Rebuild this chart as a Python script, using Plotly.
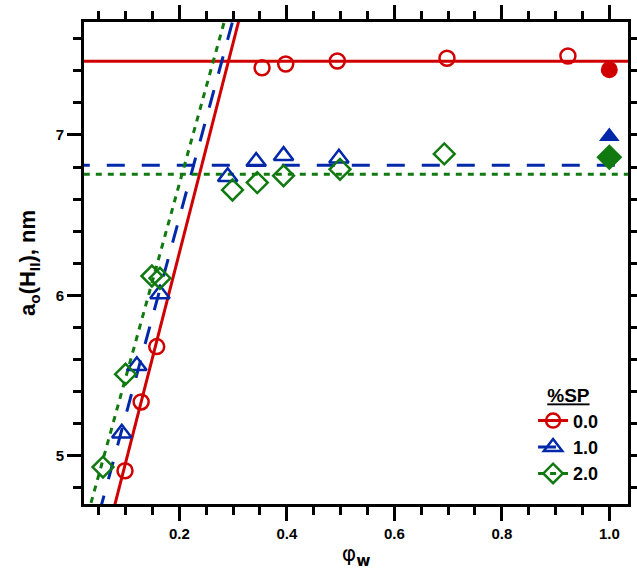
import plotly.graph_objects as go

# phi_w vs lattice parameter for three %SP levels
sp_labels = ["0.0", "1.0", "2.0"]

phi_sp0 = [0.099, 0.129, 0.158, 0.354, 0.398, 0.494, 0.698, 0.923]
a0_sp0 = [4.907, 5.336, 5.681, 7.419, 7.442, 7.461, 7.478, 7.492]

phi_sp1 = [0.093, 0.121, 0.164, 0.290, 0.343, 0.394, 0.497]
a0_sp1 = [5.141, 5.561, 6.009, 6.740, 6.834, 6.871, 6.855]

phi_sp2 = [0.058, 0.100, 0.149, 0.164, 0.299, 0.345, 0.394, 0.499, 0.693]
a0_sp2 = [4.930, 5.509, 6.121, 6.107, 6.657, 6.703, 6.746, 6.786, 6.882]

# pure-water-limit values (filled symbols)
phi_full = [1.0, 1.0, 1.0]
a0_full = [7.407, 6.990, 6.861]

# linear fits of the swelling branch: a0 = intercept + slope * phi
fit_slope = [13.08, 12.35, 12.10]
fit_intercept = [3.648, 4.013, 4.274]
# plateau levels
plateau = [7.459, 6.811, 6.755]

colors = ["#d00000", "#0028a8", "#107a10"]
symbols = ["circle", "triangle-up", "diamond"]
dashes = ["solid", "18px,17px", "6px,6px"]
msizes = [15, 17, 16]
fill_sizes = [17, 18, 20]

X_RANGE = [0.0227, 1.0348]
Y_RANGE = [4.70, 7.704]

fig = go.Figure()

series = [(phi_sp0, a0_sp0), (phi_sp1, a0_sp1), (phi_sp2, a0_sp2)]
for i, (xs, ys) in enumerate(series):
    c = colors[i]
    # swelling fit line
    xf = [0.0, 0.4]
    yf = [fit_intercept[i] + fit_slope[i] * v for v in xf]
    fig.add_trace(go.Scatter(x=xf, y=yf, mode="lines", showlegend=False,
                             line=dict(color=c, width=3, dash=dashes[i]),
                             hoverinfo="skip"))
    # plateau line
    fig.add_trace(go.Scatter(x=[0.0, 1.1], y=[plateau[i]] * 2, mode="lines",
                             showlegend=False,
                             line=dict(color=c, width=3, dash=dashes[i]),
                             hoverinfo="skip"))

for i, (xs, ys) in enumerate(series):
    c = colors[i]
    fig.add_trace(go.Scatter(x=xs, y=ys, mode="markers", showlegend=False,
                             marker=dict(symbol=symbols[i] + "-open", size=msizes[i],
                                         color=c, line=dict(color=c, width=2.5)),
                             cliponaxis=False))
    fig.add_trace(go.Scatter(x=[phi_full[i]], y=[a0_full[i]], mode="markers",
                             showlegend=False,
                             marker=dict(symbol=symbols[i], size=fill_sizes[i],
                                         color=c, line=dict(color=c, width=0))))

# legend entries
for i in range(3):
    c = colors[i]
    fig.add_trace(go.Scatter(x=[None], y=[None], mode="lines+markers",
                             name=sp_labels[i],
                             line=dict(color=c, width=3, dash=dashes[i]),
                             marker=dict(symbol=symbols[i] + "-open", size=msizes[i] - 1,
                                         color=c, line=dict(color=c, width=2.5))))

tickfont = dict(family="Liberation Sans, Arial, sans-serif", size=15, color="black",
                weight="bold")

fig.update_layout(
    width=637, height=570,
    margin=dict(l=84, r=9, t=22, b=66),
    paper_bgcolor="white", plot_bgcolor="white",
    showlegend=True,
    legend=dict(
        x=0.956, y=0.262, xanchor="right", yanchor="top",
        bgcolor="rgba(0,0,0,0)",
        title=dict(text="<u>%SP</u>", side="top center",
                   font=dict(family="Liberation Sans, Arial, sans-serif", size=19,
                             color="black", weight="bold")),
        font=dict(family="Liberation Sans, Arial, sans-serif", size=18, color="black",
                  weight="bold"),
        tracegroupgap=0, itemwidth=30,
    ),
    xaxis=dict(
        range=X_RANGE, showgrid=False, zeroline=False, automargin=False,
        showline=True, linecolor="black", linewidth=3, mirror="ticks",
        ticks="outside", ticklen=14, tickwidth=3, tickcolor="black",
        tick0=0, dtick=0.2, tickformat=".1f", tickfont=tickfont,
        minor=dict(ticks="outside", ticklen=8, tickwidth=2.5, tickcolor="black",
                   dtick=0.05, tick0=0, showgrid=False),
        title=dict(text="φ<b><sub>w</sub></b>", standoff=8,
                   font=dict(family="DejaVu Sans, sans-serif", size=22, color="black")),
    ),
    yaxis=dict(
        range=Y_RANGE, showgrid=False, zeroline=False, automargin=False,
        showline=True, linecolor="black", linewidth=3, mirror="ticks",
        ticks="outside", ticklen=14, tickwidth=3, tickcolor="black",
        tick0=0, dtick=1, tickfont=tickfont,
        minor=dict(ticks="outside", ticklen=8, tickwidth=2.5, tickcolor="black",
                   dtick=0.2, tick0=0, showgrid=False),
        title=dict(text="a<sub>o</sub>(H<sub>II</sub>), nm", standoff=14,
                   font=dict(family="Liberation Sans, Arial, sans-serif", size=22,
                             color="black", weight="bold")),
    ),
)

fig.write_html("out.html")
